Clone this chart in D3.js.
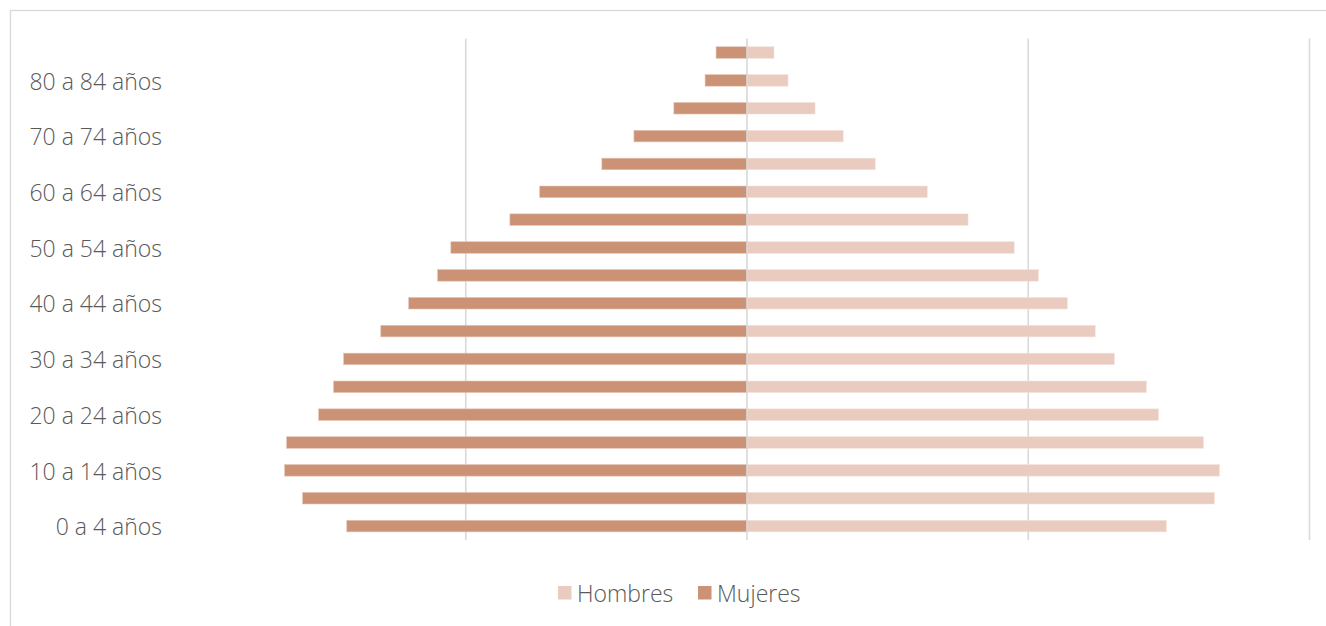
<!DOCTYPE html>
<html><head><meta charset="utf-8">
<script src="https://cdn.jsdelivr.net/npm/d3@7"></script>
<style>
html,body{margin:0;padding:0;background:#fff;}
svg{display:block;}
text{font-family:"Open Sans",Lato,sans-serif;font-weight:300;fill:#595959;}
</style></head>
<body><svg id="c" width="1326" height="626"></svg>
<script>
// Age groups (bottom to top)
const ageGroups = ["0 a 4 años","5 a 9 años","10 a 14 años","15 a 19 años","20 a 24 años","25 a 29 años","30 a 34 años","35 a 39 años","40 a 44 años","45 a 49 años","50 a 54 años","55 a 59 años","60 a 64 años","65 a 69 años","70 a 74 años","75 a 79 años","80 a 84 años","85 años y más"];
// Values (thousands of persons, estimated)
const hombres = [149.1,166.2,168.0,162.3,146.3,142.0,130.6,123.8,113.9,103.6,95.0,78.6,64.1,45.6,34.2,24.2,14.6,9.6];
const mujeres = [142.3,158.0,164.4,163.7,152.3,147.0,143.4,130.2,120.3,110.0,105.3,84.3,73.7,51.6,40.2,26.0,14.9,11.0];
const seriesNames = ["Hombres","Mujeres"];
const seriesColors = ["#e9cbbf","#cb9275"];
const gridTicks = [-100,0,100,200];

const svg = d3.select("#c");
// outer frame
svg.append("rect").attr("x",10.5).attr("y",10.5).attr("width",1330).attr("height",640)
  .attr("fill","none").attr("stroke","#d9d9d9").attr("stroke-width",1.3);

const plotTop = 38.6, plotBottom = 540;
const x = d3.scaleLinear().domain([0,200]).range([747,1309.5]);
const y = d3.scaleBand().domain(ageGroups.slice().reverse()).range([plotTop,plotBottom]).paddingInner(0.585).paddingOuter(0.2925);

// gridlines
svg.append("g").selectAll("line").data(gridTicks.filter(d=>d!==0)).join("line")
  .attr("x1",d=>x(d)).attr("x2",d=>x(d)).attr("y1",plotTop).attr("y2",plotBottom)
  .attr("stroke","#d9d9d9").attr("stroke-width",1.6);

// bars
const data = ageGroups.map((g,i)=>({g,h:hombres[i],m:mujeres[i]}));
svg.append("g").selectAll("rect").data(data).join("rect")
  .attr("x",x(0)).attr("y",d=>y(d.g)).attr("width",d=>x(d.h)-x(0)).attr("height",y.bandwidth())
  .attr("fill",seriesColors[0]).attr("stroke","#f3e3dc").attr("stroke-width",0.6);
svg.append("g").selectAll("rect").data(data).join("rect")
  .attr("x",d=>x(-d.m)).attr("y",d=>y(d.g)).attr("width",d=>x(0)-x(-d.m)).attr("height",y.bandwidth())
  .attr("fill",seriesColors[1]).attr("stroke","#e3c4b5").attr("stroke-width",0.6);

// center axis line
svg.append("line").attr("x1",x(0)).attr("x2",x(0)).attr("y1",plotTop).attr("y2",plotBottom)
  .attr("stroke","#d9d9d9").attr("stroke-width",1.6);

// category labels (every other)
const yAxis = d3.axisLeft(y).tickSize(0).tickPadding(0)
  .tickFormat((d)=> (ageGroups.indexOf(d)%2===0 ? d : ""));
const ga = svg.append("g").attr("transform","translate(162,0)").call(yAxis);
ga.select(".domain").remove();
ga.selectAll("text").attr("font-size",23).attr("font-family","'Open Sans',Lato,sans-serif")
  .attr("font-weight",300).attr("fill","#595959").attr("dy","0.4em");

// legend
const legend = [{n:seriesNames[0],c:seriesColors[0],x:558},{n:seriesNames[1],c:seriesColors[1],x:698}];
const lg = svg.append("g");
legend.forEach(l=>{
  lg.append("rect").attr("x",l.x).attr("y",586).attr("width",13.5).attr("height",13.5).attr("fill",l.c);
  lg.append("text").attr("x",l.x+19).attr("y",593).attr("dy","0.4em").attr("font-size",23).text(l.n);
});
</script></body></html>
